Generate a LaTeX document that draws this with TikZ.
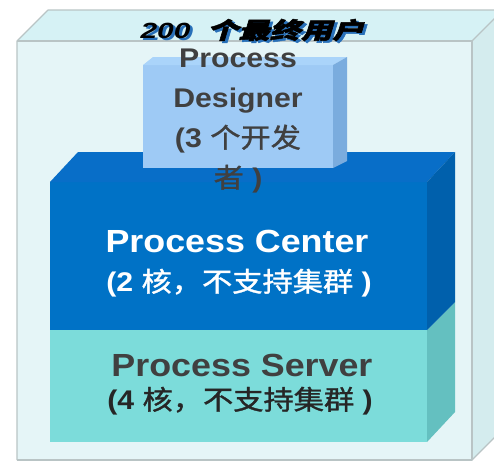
\documentclass[tikz,border=0pt]{standalone}
\usepackage{fontspec}
\setmainfont{Liberation Sans}
\newfontfamily\cjk{Noto Sans CJK SC}[FakeBold=1.2]
\newfontfamily\cjkit{Noto Sans CJK SC}[FakeSlant=0.22,FakeBold=2]
\usepackage{tikz}
\usetikzlibrary{calc}

\definecolor{glassfront}{RGB}{229,245,247}
\definecolor{glasstop}{RGB}{214,242,245}
\definecolor{glassside}{RGB}{212,236,238}
\definecolor{glassedge}{RGB}{185,196,197}
\definecolor{centerfront}{RGB}{0,114,198}
\definecolor{centertop}{RGB}{8,110,200}
\definecolor{centerside}{RGB}{0,96,172}
\definecolor{serverfront}{RGB}{124,220,218}
\definecolor{serverside}{RGB}{100,192,192}
\definecolor{designfront}{RGB}{158,202,245}
\definecolor{designtop}{RGB}{170,212,250}
\definecolor{designside}{RGB}{122,172,222}
\definecolor{labelgrey}{RGB}{64,64,64}
\definecolor{shadowblue}{RGB}{40,112,185}

% texto con sombra azul
\newcommand{\shadowtext}[1]{\rlap{\hspace{2pt}\raisebox{-2pt}{\color{shadowblue}#1}}#1}

\begin{document}
\begin{tikzpicture}[
        x=1pt, y=-1pt,
        glass/.style={draw=glassedge, line width=1.2pt, line join=round},
        boxtext/.style={align=center, inner sep=0pt, xscale=1.12, transform shape,
            font=\bfseries\fontsize{32}{36}\selectfont},
        subtext/.style={align=center, inner sep=0pt, xscale=1.12, transform shape,
            font=\bfseries\fontsize{27}{30}\selectfont},
    ]
        \useasboundingbox (0,0) rectangle (494,463);
        \clip (0,0) rectangle (494,463);

        % --- Caja exterior (200 usuarios) ---
        \fill[glasstop] (17,41) -- (48,10) -- (525,10) -- (472,41) -- cycle;
        \fill[glassside] (472,41) -- (503,10) -- (503,429) -- (472,460) -- cycle;
        \fill[glassfront] (17,41) rectangle (472,460);

        % --- Process Server ---
        \fill[serverfront] (50,330) rectangle (427,442);
        \fill[serverside] (427,330) -- (455,302) -- (455,412) -- (427,442) -- cycle;

        % --- Process Center ---
        \fill[centerfront] (50,182) rectangle (427,330);
        \fill[centertop] (50,182) -- (78,152) -- (455,152) -- (427,182) -- cycle;
        \fill[centerside] (427,182) -- (455,152) -- (455,302) -- (427,330) -- cycle;

        % --- Process Designer ---
        \fill[designfront] (143,65) rectangle (333,168);
        \fill[designtop] (143,65) -- (153,57) -- (347,57) -- (333,65) -- cycle;
        \fill[designside] (333,65) -- (347,57) -- (347,161) -- (333,168) -- cycle;

        % --- Aristas de la caja exterior ---
        \draw[glass] (17,460) -- (17,41) -- (48,10) -- (525,10);
        \draw[glass] (17,41) -- (472,41) -- (472,460) -- (17,460);
        \draw[glass] (472,41) -- (503,10);
        \draw[glass] (472,460) -- (503,429);

        % --- Textos ---
        \node[text=black, font=\bfseries\itshape\fontsize{22}{24}\selectfont,
            xscale=1.36, transform shape] (title) at (252,31)
            {\shadowtext{200\ \ {\cjkit\fontsize{23}{24}\selectfont 个最终用户}}};

        \node[boxtext, text=labelgrey, font=\bfseries\fontsize{27}{40}\selectfont]
            (designer) at (238,121)
            {Process\\Designer\\(3 {\cjk\mdseries 个开发}\\{\cjk\mdseries 者} )};

        \node[boxtext, text=white] (center) at (237,241) {Process Center};
        \node[subtext, text=white] (centersub) at (239,283)
            {(2 {\cjk\mdseries 核，不支持集群} )};

        \node[boxtext, text=labelgrey] (server) at (242,365) {Process Server};
        \node[subtext, text=black!85] (serversub) at (240,401)
            {(4 {\cjk\mdseries 核，不支持集群} )};
    \end{tikzpicture}
\end{document}
